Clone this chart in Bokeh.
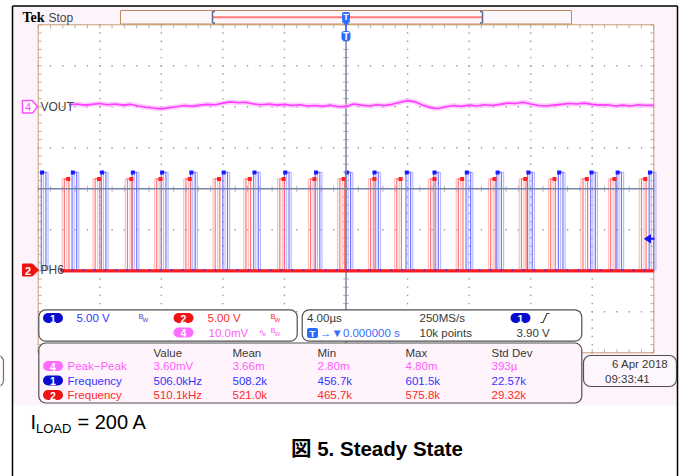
import numpy as np
from bokeh.plotting import figure
from bokeh.models import Range1d, BoxAnnotation
from bokeh.core.properties import value
from bokeh.embed import file_html
from bokeh.resources import INLINE

# ---------------- data ----------------
time_per_div_us = 4.0
ch1_v_per_div = 5.0
ch2_v_per_div = 5.0
ch4_mv_per_div = 10.0
ch1_pos_div = -2.0
ch2_pos_div = -2.0
ch4_pos_div = 2.0
trigger_level_v = 3.90

ch1_rise_us = [-19.8, -17.8, -15.9, -13.9, -12.0, -10.1, -8.0, -6.0, -4.0, -2.0,
               0.0, 1.8, 3.9, 5.7, 7.8, 9.8, 11.8, 13.8, 15.9, 17.6, 19.7]
ch2_rise_us = [-18.3, -16.3, -14.2, -12.3, -10.4, -8.5, -6.5, -4.3, -2.3, -0.4,
               1.6, 3.3, 5.5, 7.3, 9.4, 11.4, 13.3, 15.4, 17.2, 19.2]
ch1_pulse_us = 0.30
ch2_pulse_us = 0.30
ch1_high_v = 12.0
ch2_high_v = 11.2

vout_start_us = -18.0
vout_step_us = 0.5
vout_mv = [0.5, 0.7, 0.4, 0.6, 0.8, 0.5, 0.7, 0.4, 0.6, 0.2,
           -0.1, -0.3, -0.5, -0.2, 0.0, 0.3, 0.1, 0.4, 0.6, 0.5,
           0.9, 1.2, 1.0, 1.1, 0.7, 0.5, 0.7, 0.4, 0.6, 0.3,
           0.5, 0.2, 0.3, 0.1, 0.4, 0.0, 0.1, 0.7, 0.4, 0.2,
           0.5, 0.3, 0.6, 1.1, 1.5, 1.2, 0.4, -0.2, -0.4, 0.0,
           0.3, 0.1, 0.4, 0.2, 0.5, 0.3, 0.6, 0.9, 0.8, 1.1,
           0.7, 0.3, 0.2, 0.4, 0.6, 0.8, 0.7, 0.9, 0.6, 0.4,
           0.5, 0.2, 0.4, 0.2, 0.5, 0.3, 0.4]

meas_channel = ["4", "1", "2"]
meas_name = ["Peak\u2212Peak", "Frequency", "Frequency"]
meas_value = ["3.60mV", "506.0kHz", "510.1kHz"]
meas_mean = ["3.66m", "508.2k", "521.0k"]
meas_min = ["2.80m", "456.7k", "465.7k"]
meas_max = ["4.80m", "601.5k", "575.8k"]
meas_std = ["393\u00b5", "22.57k", "29.32k"]
meas_headers = ["Value", "Mean", "Min", "Max", "Std Dev"]

# ---------------- layout helpers (page pixels -> µs / divisions) ----------------
GX0, GPX = 37.7, 61.56      # left edge of graticule, px per horizontal division
GY0, GPY = 188.3, 41.0      # centre line, px per vertical division
W, H = 686, 476


def tx(X):
    return -20.0 + (X - GX0) / GPX * time_per_div_us


def dy(Y):
    return (GY0 - Y) / GPY


SF = value("Liberation Sans")
FS = 11.5
BLUE_T, RED_T, PINK_T, GRAY_T = "#3434ff", "#ff2a2a", "#ff5cff", "#383838"
BLUE_P, RED_P, PINK_P = "#0b0bd0", "#ee1414", "#ff6cff"

p = figure(width=W, height=H, x_range=Range1d(tx(0), tx(W)),
           y_range=Range1d(dy(H), dy(0)), toolbar_location=None,
           output_backend="svg", x_axis_location=None, y_axis_location=None,
           min_border=0, background_fill_color="white", border_fill_color="white",
           outline_line_color=None)
p.grid.visible = False


def txt(X, Y, s, color, size, align="left", bold=False, font=SF):
    r = p.text(x=[tx(X)], y=[dy(Y)], text=[s], text_color=color,
               text_font_size=f"{size}px", text_align=align, text_baseline="middle",
               text_font=font, text_font_style="bold" if bold else "normal")
    r.level = "overlay"
    return r


def box(L, R, T, B, fill, line=None, radius=0, lw=1.0):
    b = BoxAnnotation(left=tx(L), right=tx(R), top=dy(T), bottom=dy(B),
                      fill_color=fill, fill_alpha=1.0 if fill else 0.0,
                      line_color=line if line else "white", line_alpha=1.0 if line else 0.0,
                      line_width=lw, border_radius=radius)
    p.add_layout(b)
    return b


def pill(Xc, Yc, label, fill):
    box(Xc - 10, Xc + 10, Yc - 5, Yc + 5, fill, None, 5)
    txt(Xc, Yc + 0.5, label, "white", 10.5, "center", True)


# scope screen background and page frame
p.quad(left=tx(12), right=tx(677), top=dy(6), bottom=dy(405), fill_color="#fcf4fa", line_color=None)
p.segment(x0=[tx(12), tx(677), tx(12)], y0=[dy(5.5), dy(5.5), dy(5.5)],
          x1=[tx(12), tx(677), tx(677)], y1=[dy(H), dy(H), dy(5.5)],
          line_color="black", line_width=1.5)

# graticule
p.quad(left=-20, right=20, top=4, bottom=-4, fill_color="white", line_color=None)
gx, gy = [], []
for k in range(1, 10):
    if k == 5:
        continue
    t = -20 + k * time_per_div_us
    for j in range(41):
        gx.append(t)
        gy.append(-4 + j * 0.2)
for k in range(1, 8):
    if k == 4:
        continue
    d = -4 + k
    for j in range(51):
        gx.append(-20 + j * 0.8)
        gy.append(d)
p.scatter(gx, gy, marker="square", size=1.4, color="#9a9a9a", line_color=None)

# ticks on edges and centre lines
tick_len_t = 3 / GPX * time_per_div_us
tick_len_d = 3 / GPY
hx0, hx1, hy0, hy1 = [], [], [], []
for j in range(51):
    t = -20 + j * 0.8
    for base, sgn in ((4, -1), (-4, 1)):
        hx0.append(t); hx1.append(t); hy0.append(base); hy1.append(base + sgn * tick_len_d * 1.2)
    hx0.append(t); hx1.append(t); hy0.append(-tick_len_d); hy1.append(tick_len_d)
for j in range(41):
    d = -4 + j * 0.2
    for base, sgn in ((-20, 1), (20, -1)):
        hx0.append(base); hx1.append(base + sgn * tick_len_t * 1.2); hy0.append(d); hy1.append(d)
    hx0.append(-tick_len_t); hx1.append(tick_len_t); hy0.append(d); hy1.append(d)
p.segment(x0=hx0, y0=hy0, x1=hx1, y1=hy1, line_color="#b4b4b4", line_width=1)
p.quad(left=-20, right=20, top=4, bottom=-4, fill_color=None, line_color="#c89a70", line_width=1)

# ---------------- waveforms ----------------
def pulses(rises, width, high_v, vpd, pos, shift):
    xs, ys = [], []
    top = pos + high_v / vpd
    for s in rises:
        a = s + shift
        xs.append([a, a, a + width, a + width])
        ys.append([pos, top, top, pos])
    return xs, ys

for sh, col, alpha in ((0.14, "#b4b4ff", 0.9), (0.0, "#6e6eff", 0.95)):
    xs, ys = pulses(ch1_rise_us, ch1_pulse_us, ch1_high_v, ch1_v_per_div, ch1_pos_div, sh)
    p.multi_line(xs, ys, line_color=col, line_alpha=alpha, line_width=1.2)
for sh, col, alpha in ((-0.14, "#ffb8b8", 0.9), (0.0, "#ff7070", 0.95)):
    xs, ys = pulses(ch2_rise_us, ch2_pulse_us, ch2_high_v, ch2_v_per_div, ch2_pos_div, sh)
    p.multi_line(xs, ys, line_color=col, line_alpha=alpha, line_width=1.2)

p.scatter([s + 0.05 for s in ch1_rise_us], [ch1_pos_div + ch1_high_v / ch1_v_per_div] * len(ch1_rise_us),
          marker="square", size=4, color="#1a1aff", line_color=None)
p.scatter([s + ch2_pulse_us - 0.05 for s in ch2_rise_us], [ch2_pos_div + ch2_high_v / ch2_v_per_div] * len(ch2_rise_us),
          marker="square", size=4, color="#ff2020", line_color=None)

# centre cross lines (solid)
p.segment(x0=[-20, 0], y0=[0, -4], x1=[20, 0], y1=[0, 4], line_color="#7684aa", line_width=1.5)

# baseline of ch1 / ch2
base_x0 = tx(60)
p.line([base_x0, 20], [ch1_pos_div, ch1_pos_div], line_color="#5a5aff", line_width=2)
p.line([base_x0, 20], [ch2_pos_div, ch2_pos_div], line_color="#ff1c1c", line_width=3.2)
p.line([base_x0, 20], [ch1_pos_div + 0.02, ch1_pos_div + 0.02], line_color="#3030ff",
       line_width=1.6, line_dash="2 9")

# VOUT (ch4)
vt = [vout_start_us + i * vout_step_us for i in range(len(vout_mv))]
vy = [ch4_pos_div + v / ch4_mv_per_div for v in vout_mv]
p.line(vt, vy, line_color="#ffa8ff", line_width=5, line_alpha=0.55)
p.line(vt, vy, line_color="#ff3cff", line_width=1.6)

# channel markers on the left
p.patch([tx(22), tx(32), tx(37), tx(32), tx(22)],
        [dy(100), dy(100), dy(106.3), dy(112.6), dy(112.6)],
        fill_color="white", line_color="#ff4cff", line_width=1.5)
txt(27.5, 106.5, "4", "#ff4cff", 11, "center")
txt(40, 106, "VOUT", "#444444", 12)
p.patch([tx(22), tx(32), tx(38), tx(32), tx(22)],
        [dy(263.5), dy(263.5), dy(269.5), dy(275.5), dy(275.5)],
        fill_color="#ee1111", line_color="#ee1111", line_width=1)
txt(27.5, 270, "2", "white", 11, "center", True)
txt(40, 269.5, "PH6", "#444444", 12)

# trigger level arrow on the right
trig_div = ch1_pos_div + trigger_level_v / ch1_v_per_div
p.patch([tx(644), tx(650), tx(650)], [trig_div, trig_div + 4 / GPY, trig_div - 4 / GPY],
        fill_color="#1515ff", line_color="#1515ff")
p.segment(x0=[tx(650)], y0=[trig_div], x1=[tx(654)], y1=[trig_div], line_color="#1515ff", line_width=2)

# ---------------- header ----------------
txt(22, 17, "Tek", "black", 14, bold=True, font=value("Liberation Serif"))
txt(48, 17.5, "Stop", "#444444", 12)
p.quad(left=tx(120), right=tx(571), top=dy(10), bottom=dy(23.5), fill_color="#fdf7fc",
       line_color="#c08a5a", line_width=1)
p.segment(x0=[tx(212)], y0=[dy(16.8)], x1=[tx(482)], y1=[dy(16.8)], line_color="#ff7a7a", line_width=2)
p.segment(x0=[tx(212), tx(482), tx(212), tx(212), tx(482), tx(482)],
          y0=[dy(11), dy(11), dy(11), dy(22.5), dy(11), dy(22.5)],
          x1=[tx(212), tx(482), tx(214.5), tx(214.5), tx(479.5), tx(479.5)],
          y1=[dy(22.5), dy(22.5), dy(11), dy(22.5), dy(11), dy(22.5)],
          line_color="#5a6a90", line_width=1.5)
# trigger position markers
p.segment(x0=[0], y0=[dy(24)], x1=[0], y1=[dy(31)], line_color="#2a6cff", line_width=1.5)
box(341.5, 349.5, 11.5, 20.5, "#2a6cff", None, 2)
txt(345.5, 16.3, "T", "white", 9, "center", True)
p.patch([tx(341.5), tx(349.5), tx(345.5)], [dy(20.5), dy(20.5), dy(25)], fill_color="#2a6cff", line_color="#2a6cff")
box(341, 350, 30.5, 40.5, "#2a6cff", None, 3)
txt(345.5, 35.8, "T", "white", 10, "center", True)

# ---------------- panels ----------------
box(-12, 3, 355, 386, "#fdf6fc", "#707070", 6, 1.2)
box(38.3, 296.7, 309.3, 340.7, "white", "#505050", 7, 1.2)
box(301.7, 581.3, 309.3, 340.7, "white", "#505050", 7, 1.2)
pill(52.5, 317.5, "1", BLUE_P)
txt(76, 317.5, "5.00 V", BLUE_T, FS)
txt(138, 315.5, "B", "#4848c8", 7.5)
txt(142, 319, "W", "#4848c8", 6)
pill(183, 317.5, "2", RED_P)
txt(207, 317.5, "5.00 V", RED_T, FS)
txt(270, 315.5, "B", RED_T, 7.5)
txt(274, 319, "W", RED_T, 6)
pill(183, 332, "4", PINK_P)
txt(208, 332, "10.0mV", PINK_T, FS)
txt(258, 331.5, "\u223f", PINK_T, 10, font=value("DejaVu Sans"))
txt(270, 330, "B", PINK_T, 7.5)
txt(274, 333.5, "W", PINK_T, 6)

txt(306.5, 317.5, "4.00\u00b5s", GRAY_T, FS)
txt(419, 317.5, "250MS/s", GRAY_T, FS)
txt(419, 332.5, "10k points", GRAY_T, FS)
pill(520, 317.5, "1", BLUE_P)
r = p.line([tx(540), tx(542.5), tx(546.5), tx(549)], [dy(322), dy(322), dy(313), dy(313)],
           line_color=GRAY_T, line_width=1.1)
r.level = "overlay"
txt(516, 332.5, "3.90 V", GRAY_T, FS)
box(306.5, 317.5, 327.5, 337.5, "#2a6cff", None, 2)
txt(312, 332.8, "T", "white", 9.5, "center", True)
txt(319.5, 332.5, "\u2192\u25bc0.000000 s", "#3a6aff", FS)

# measurement table
box(38.3, 581.3, 342.5, 402.5, "#fff4fb", "#505050", 7, 1.2)
col_x = [153, 232, 317, 405, 491]
for cx, h in zip(col_x, meas_headers):
    txt(cx, 352, h, GRAY_T, FS)
row_y = [365.5, 380, 394.5]
row_col_t = {"4": PINK_T, "1": BLUE_T, "2": RED_T}
row_col_p = {"4": PINK_P, "1": BLUE_P, "2": RED_P}
for i, ch in enumerate(meas_channel):
    yy = row_y[i]
    pill(52.5, yy, ch, row_col_p[ch])
    c = row_col_t[ch]
    txt(67, yy, meas_name[i], c, FS)
    for cx, v in zip(col_x, (meas_value[i], meas_mean[i], meas_min[i], meas_max[i], meas_std[i])):
        txt(cx, yy, v, c, FS)

# date box
box(583, 676, 355, 386, "#fdf6fc", "#505050", 7, 1.2)
txt(671, 363.5, "6 Apr  2018", GRAY_T, FS, "right")
txt(604.5, 378.5, "09:33:41", GRAY_T, FS)

# ---------------- caption ----------------
txt(30, 421.5, "I", "black", 20)
txt(35.5, 428, "LOAD", "black", 13)
txt(77, 421.5, "= 200 A", "black", 20)
txt(376.5, 448, "\u56f3 5. Steady State", "black", 20.5, "center", True,
    font=value("Liberation Sans, Noto Sans CJK JP"))

open("out.html", "w").write(file_html(p, INLINE))
